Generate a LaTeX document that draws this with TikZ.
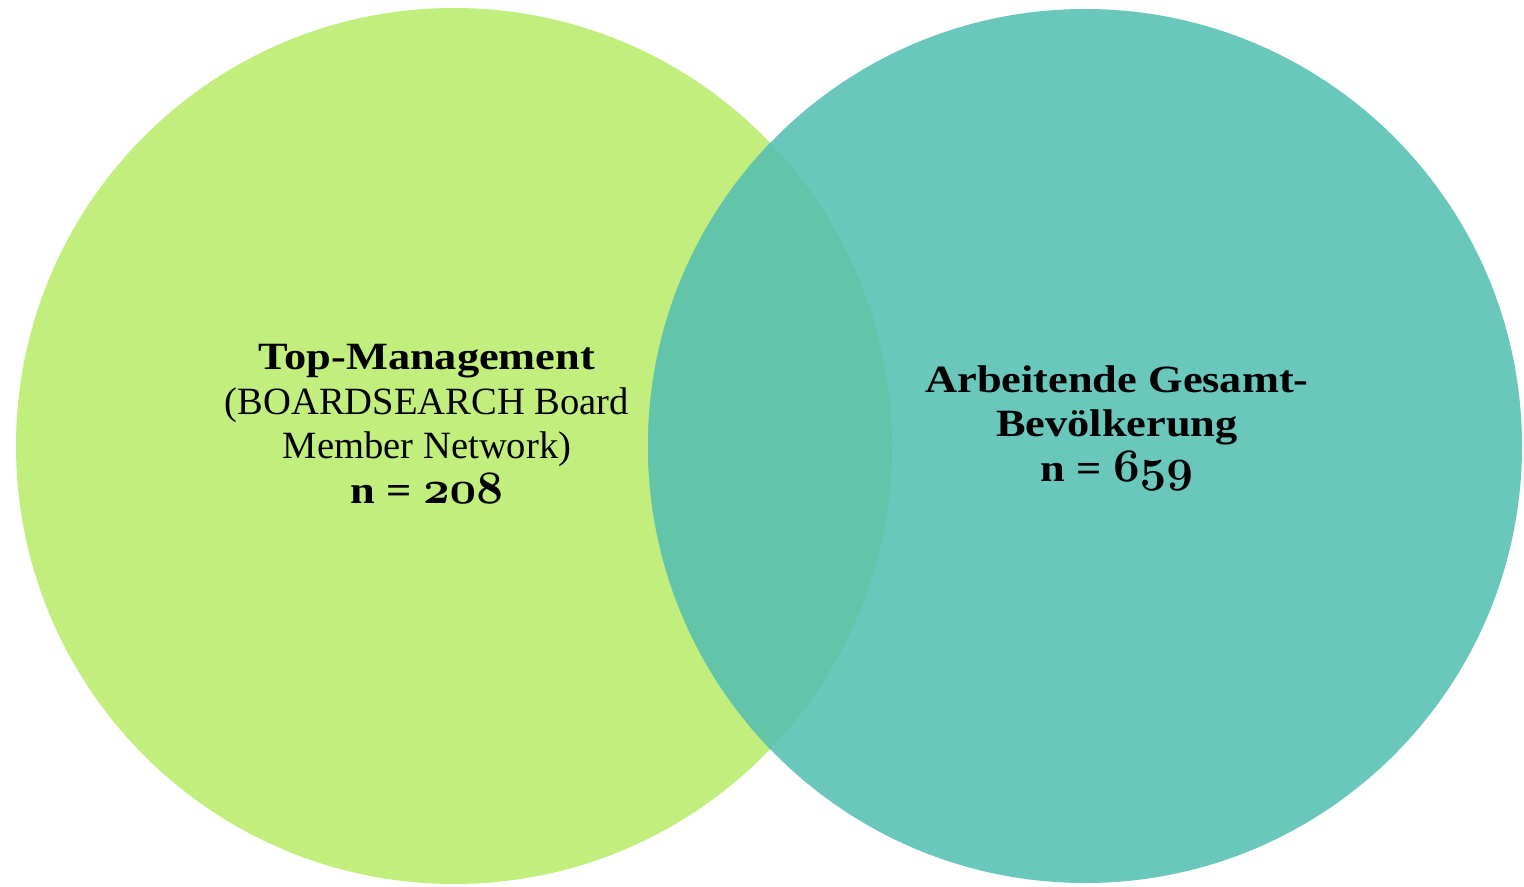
\documentclass[tikz,border=0pt]{standalone}
\usepackage{fontspec}
\setmainfont{Liberation Serif}[BoldFeatures={FakeStretch=1.15}]
\newcommand{\osnum}[1]{\scalebox{1.12}{\boldmath$\mathnormal{#1}$}}
\definecolor{lgreen}{HTML}{C2EE7D}
\definecolor{teal}{HTML}{6AC7BC}
\definecolor{mix}{HTML}{62C5AA}
\tikzset{
  setcircle/.style={circle, inner sep=0pt, minimum size=#1},
  label text/.style={align=center, inner sep=0pt, text=black,
    font=\fontsize{19.3pt}{22.25pt}\selectfont}
}
\begin{document}
\begin{tikzpicture}[x=0.5pt,y=-0.5pt]
\useasboundingbox (0,0) rectangle (1524,887);
\node[setcircle=438pt, fill=lgreen] (L) at (454,446) {};
\node[setcircle=437pt, fill=teal] (R) at (1085,446) {};
\begin{scope}
  \clip (454,446) circle[radius=219pt];
  \fill[mix] (1085,446) circle[radius=218.5pt];
\end{scope}
\node[label text] (LT) at (427,424) {\textbf{Top-Management}\\(BOARDSEARCH Board\\Member Network)\\\textbf{n = \osnum{208}}};
\node[label text] (RT) at (1117,428) {\textbf{Arbeitende Gesamt-}\\\textbf{Bevölkerung}\\\textbf{n = \osnum{659}}};
\end{tikzpicture}
\end{document}
